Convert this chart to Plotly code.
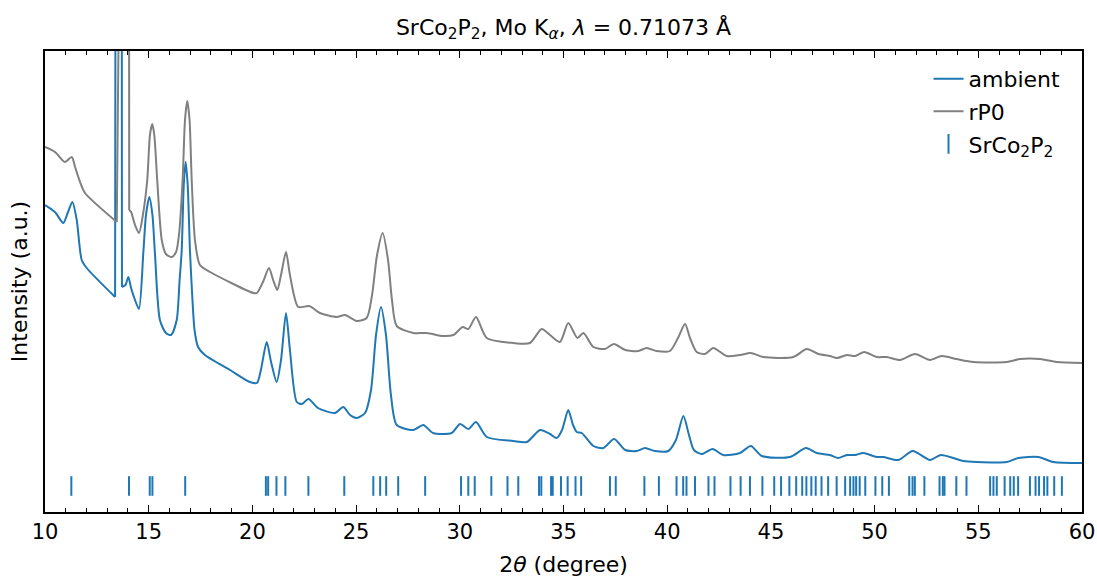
import plotly.graph_objects as go

# ---- data ----
ambient_2theta = [10.00, 10.48, 10.88, 11.11, 11.32, 11.53, 11.77, 12.01, 13.38, 13.45, 13.68, 13.71,
                  13.88, 14.02, 14.15, 14.34, 14.53, 14.74, 14.87, 15.03, 15.18, 15.30, 15.54, 15.83,
                  16.08, 16.35, 16.49, 16.59, 16.69, 16.78, 16.88, 16.99, 17.11, 17.21, 17.38, 17.71,
                  18.92, 19.88, 20.22, 20.41, 20.69, 20.90, 21.17, 21.38, 21.62, 21.81, 22.14, 22.39,
                  22.70, 23.16, 23.98, 24.38, 24.71, 25.03, 25.43, 25.72, 25.96, 26.20, 26.44, 26.68,
                  26.96, 27.76, 28.24, 28.71, 29.61, 30.01, 30.41, 30.78, 31.30, 32.58, 33.23, 33.87,
                  34.35, 34.67, 34.93, 35.23, 35.46, 35.64, 35.88, 36.44, 36.92, 37.44, 37.97, 38.53,
                  38.93, 39.41, 40.05, 40.42, 40.78, 41.05, 41.29, 41.66, 42.19, 42.70, 43.51, 44.03,
                  44.56, 45.92, 46.69, 47.21, 47.85, 48.24, 48.66, 49.06, 49.45, 50.10, 50.42, 51.14,
                  51.84, 52.67, 53.19, 54.28, 54.92, 56.37, 56.93, 57.89, 58.62, 60.00]
ambient_intensity = [307, 300, 289, 300, 310, 292, 252, 244, 215, 1500, 1500, 225,
                     227, 235, 224, 212, 203, 259, 297, 315, 297, 259, 192, 179,
                     177, 192, 232, 261, 327, 350, 327, 261, 212, 182, 165, 157,
                     142, 130, 129, 142, 170, 150, 130, 152, 199, 162, 110, 108,
                     113, 104, 99, 105, 97, 94, 99, 122, 177, 205, 177, 117,
                     87, 82, 87, 79, 79, 88, 83, 90, 75, 71, 70, 82,
                     78, 74, 82, 102, 87, 80, 79, 66, 64, 73, 62, 61,
                     64, 61, 61, 72, 96, 77, 62, 58, 63, 57, 59, 66,
                     56, 55, 64, 59, 57, 54, 57, 57, 59, 55, 55, 52,
                     61, 52, 57, 51, 50, 50, 54, 55, 50, 49]

rp0_2theta = [10.00, 10.48, 10.96, 11.29, 11.45, 11.69, 11.93, 13.46, 13.55, 14.03, 14.06, 14.15,
              14.34, 14.53, 14.72, 14.93, 15.06, 15.17, 15.27, 15.41, 15.63, 15.83, 16.11, 16.32,
              16.46, 16.64, 16.75, 16.86, 16.97, 17.07, 17.23, 17.47, 17.96, 20.04, 20.22, 20.51,
              20.80, 21.00, 21.20, 21.38, 21.62, 21.81, 22.21, 22.74, 23.26, 24.06, 24.46, 25.03,
              25.51, 25.77, 26.01, 26.28, 26.54, 26.73, 26.96, 27.76, 28.40, 29.20, 29.69, 30.14,
              30.41, 30.78, 31.30, 32.58, 33.38, 33.95, 34.35, 34.83, 35.23, 35.67, 35.96, 36.44,
              37.00, 37.43, 37.97, 38.61, 39.01, 39.49, 40.13, 40.52, 40.86, 41.10, 41.42, 41.82,
              42.22, 42.87, 43.51, 44.03, 44.63, 46.08, 46.73, 47.29, 47.85, 48.18, 48.66, 49.06,
              49.50, 50.10, 50.58, 51.22, 51.95, 52.67, 53.23, 53.95, 54.76, 56.37, 57.01, 57.98,
              58.78, 60.00]
rp0_intensity = [365, 360, 350, 355, 345, 330, 319, 290, 1500, 1500, 302, 300,
                 287, 279, 297, 332, 377, 388, 377, 332, 272, 258, 255, 260,
                 277, 334, 392, 411, 392, 334, 272, 247, 240, 219, 219, 230,
                 244, 232, 222, 237, 260, 237, 205, 206, 199, 195, 197, 191,
                 194, 217, 257, 279, 252, 212, 186, 179, 179, 176, 177, 185,
                 183, 195, 174, 169, 169, 183, 177, 170, 189, 174, 179, 165,
                 163, 168, 162, 161, 164, 161, 161, 174, 188, 174, 160, 158,
                 164, 156, 157, 159, 155, 155, 163, 158, 156, 154, 157, 156,
                 160, 155, 155, 152, 158, 152, 156, 153, 150, 150, 153, 153,
                 150, 149]

srco2p2_reflections = [11.27, 14.05, 15.05, 15.18, 16.76, 20.65, 20.76, 21.16, 21.59, 22.70,
                       24.43, 25.83, 26.16, 26.45, 27.03, 28.33, 30.06, 30.41, 30.72, 31.52,
                       32.30, 32.82, 33.82, 33.93, 34.40, 34.48, 34.88, 35.20, 35.58, 35.85,
                       37.24, 37.52, 38.90, 39.60, 40.45, 40.77, 40.93, 41.34, 41.99, 42.28,
                       43.05, 43.54, 43.99, 44.59, 45.16, 45.49, 45.89, 46.22, 46.51, 46.71,
                       46.95, 47.16, 47.44, 47.76, 48.17, 48.58, 48.82, 48.98, 49.11, 49.28,
                       49.55, 50.04, 50.37, 50.69, 51.67, 51.83, 51.94, 52.40, 53.13, 53.29,
                       53.37, 53.94, 54.43, 55.57, 55.73, 55.89, 56.27, 56.54, 56.71, 56.92,
                       57.49, 57.76, 57.93, 58.17, 58.33, 58.66, 59.03]
reflection_level = 26

FONT = "DejaVu Sans"
BLUE = "#1f77b4"
GRAY = "#808080"

fig = go.Figure()


def add_pattern(x, y, name, color, group, spike_start, spike_end):
    """Smooth spline everywhere except the saturated spike, drawn with straight edges."""
    pieces = [(0, spike_start + 1, "spline"),
              (spike_start, spike_end + 1, "linear"),
              (spike_end, len(x), "spline")]
    for k, (a, b, shape) in enumerate(pieces):
        fig.add_trace(go.Scatter(
            x=x[a:b], y=y[a:b], mode="lines", name=name, legendgroup=group,
            showlegend=(k == 0),
            line=dict(color=color, width=2, shape=shape, smoothing=0.7)))


# spike runs from the point before the jump to the point after the drop
add_pattern(ambient_2theta, ambient_intensity, "ambient", BLUE, "a", 8, 11)
add_pattern(rp0_2theta, rp0_intensity, "rP0", GRAY, "b", 7, 10)

fig.add_trace(go.Scatter(x=srco2p2_reflections, y=[reflection_level] * len(srco2p2_reflections),
                         mode="markers", name="SrCo<sub>2</sub>P<sub>2</sub>", legendgroup="c",
                         marker=dict(symbol="line-ns", size=14, color=BLUE,
                                     line=dict(color=BLUE, width=2))))

fig.update_layout(
    width=1097, height=578,
    margin=dict(l=45, r=15, t=51, b=66, autoexpand=False),
    paper_bgcolor="white", plot_bgcolor="white",
    font=dict(family=FONT, size=22, color="black"),
    title=dict(text="SrCo<sub>2</sub>P<sub>2</sub>, Mo K<sub><i>α</i></sub>, <i>λ</i> = 0.71073 Å",
               x=0.5, xref="paper", xanchor="center", y=1 - 27 / 578, yref="container",
               yanchor="middle", font=dict(family=FONT, size=22, color="black")),
    showlegend=True,
    legend=dict(x=0.852, xanchor="left", y=0.985, yanchor="top", bgcolor="rgba(0,0,0,0)",
                font=dict(family=FONT, size=22), tracegroupgap=1),
    xaxis=dict(range=[10, 60], dtick=5, tick0=10, showgrid=False, zeroline=False,
               automargin=False,
               showline=True, linecolor="black", linewidth=1.5, mirror="allticks",
               ticks="inside", ticklen=7, tickwidth=1.2, tickcolor="black",
               minor=dict(ticks="inside", ticklen=4, dtick=1, tickwidth=1, tickcolor="black"),
               tickfont=dict(family=FONT, size=21),
               title=dict(text="2<i>θ</i> (degree)", font=dict(family=FONT, size=22), standoff=14)),
    yaxis=dict(range=[0, 461], showgrid=False, zeroline=False, showticklabels=False, ticks="",
               automargin=False,
               showline=True, linecolor="black", linewidth=1.5, mirror=True,
               title=dict(text="Intensity (a.u.)", font=dict(family=FONT, size=22), standoff=10)),
)

fig.write_html("out.html")
